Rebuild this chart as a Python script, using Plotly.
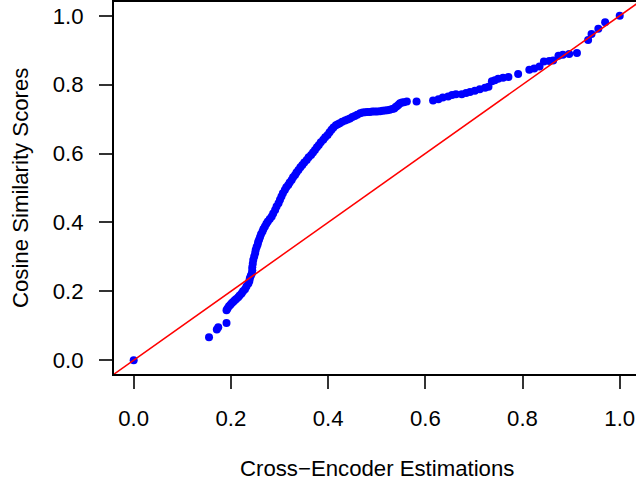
import plotly.graph_objects as go

# Quantile pairs
cross_encoder = [
    0.000, 0.155, 0.171, 0.174, 0.191,
    0.191, 0.193, 0.196, 0.199, 0.202, 0.205, 0.208, 0.211, 0.215, 0.218,
    0.222, 0.225, 0.229, 0.232, 0.236, 0.238, 0.239, 0.241, 0.243, 0.244,
    0.244, 0.245, 0.246, 0.248, 0.250, 0.251, 0.253, 0.255, 0.256, 0.258,
    0.260, 0.262, 0.265, 0.267, 0.270, 0.273, 0.276, 0.280, 0.284, 0.287,
    0.291, 0.294, 0.298, 0.301, 0.304, 0.307, 0.311, 0.314, 0.318, 0.321,
    0.325, 0.328, 0.332, 0.335, 0.339, 0.343, 0.347, 0.351, 0.356, 0.360,
    0.365, 0.369, 0.373, 0.377, 0.381, 0.385, 0.390, 0.394, 0.399, 0.403,
    0.407, 0.411, 0.416, 0.420, 0.424, 0.429, 0.435, 0.440, 0.445, 0.450,
    0.455, 0.460, 0.466, 0.471, 0.476, 0.481, 0.486, 0.491, 0.496, 0.501,
    0.507, 0.512, 0.517, 0.522, 0.527, 0.532, 0.536, 0.539, 0.542, 0.545,
    0.548, 0.552, 0.556, 0.562,
    0.582, 0.616, 0.627, 0.636, 0.647, 0.655, 0.663,
    0.675, 0.684, 0.692, 0.702, 0.712, 0.723, 0.730, 0.737, 0.743, 0.750,
    0.760, 0.771, 0.791, 0.814, 0.824, 0.835, 0.844, 0.855, 0.863, 0.874,
    0.883, 0.896, 0.912, 0.935, 0.942, 0.956, 0.970, 1.000,
]
cosine_similarity = [
    0.000, 0.067, 0.089, 0.096, 0.108,
    0.145, 0.150, 0.157, 0.161, 0.166, 0.170, 0.174, 0.178, 0.183, 0.188,
    0.194, 0.200, 0.206, 0.214, 0.223, 0.230, 0.238, 0.245, 0.252, 0.261,
    0.270, 0.280, 0.291, 0.301, 0.311, 0.320, 0.329, 0.336, 0.343, 0.350,
    0.358, 0.366, 0.374, 0.381, 0.388, 0.396, 0.403, 0.410, 0.417, 0.426,
    0.436, 0.446, 0.456, 0.466, 0.475, 0.485, 0.494, 0.502, 0.509, 0.516,
    0.523, 0.531, 0.538, 0.545, 0.552, 0.560, 0.567, 0.574, 0.581, 0.589,
    0.596, 0.603, 0.610, 0.618, 0.625, 0.633, 0.640, 0.647, 0.654, 0.662,
    0.669, 0.676, 0.682, 0.685, 0.688, 0.692, 0.696, 0.699, 0.702, 0.706,
    0.709, 0.713, 0.717, 0.719, 0.720, 0.721, 0.721, 0.722, 0.722, 0.722,
    0.723, 0.724, 0.725, 0.726, 0.727, 0.729, 0.731, 0.735, 0.738, 0.742,
    0.746, 0.748, 0.749, 0.751,
    0.751, 0.754, 0.758, 0.763, 0.766, 0.770, 0.772,
    0.772, 0.776, 0.779, 0.782, 0.787, 0.791, 0.794, 0.810, 0.813, 0.817,
    0.820, 0.822, 0.831, 0.843, 0.847, 0.853, 0.867, 0.869, 0.870, 0.884,
    0.887, 0.889, 0.892, 0.930, 0.947, 0.962, 0.981, 1.000,
]
tick_values = [0.0, 0.2, 0.4, 0.6, 0.8, 1.0]
tick_labels = ["0.0", "0.2", "0.4", "0.6", "0.8", "1.0"]
identity_line = [-0.1, 1.1]

FONT = "Liberation Sans, Arial, Helvetica, sans-serif"
FS = 22.2

fig = go.Figure()
fig.add_trace(go.Scatter(
    x=cross_encoder, y=cosine_similarity, mode="markers",
    marker=dict(color="#0000FF", size=8, line=dict(width=0)),
    showlegend=False, hoverinfo="x+y",
))
fig.add_trace(go.Scatter(
    x=identity_line, y=identity_line, mode="lines",
    line=dict(color="#FF0000", width=1.5),
    showlegend=False, hoverinfo="skip",
))

fig.update_layout(
    width=636, height=481,
    margin=dict(l=114, r=0, t=2, b=107),
    paper_bgcolor="white", plot_bgcolor="white",
    font=dict(family=FONT, size=FS, color="black"),
    xaxis=dict(
        range=[-0.0405, 1.0335], tickvals=tick_values, ticktext=tick_labels,
        showgrid=False, zeroline=False, showline=True, mirror=True,
        linecolor="black", linewidth=2, ticks="outside", ticklen=13,
        tickwidth=1.5, tickcolor="#333333", ticklabelstandoff=10,
        tickfont=dict(family=FONT, size=FS, color="black"),
    ),
    yaxis=dict(
        range=[-0.04, 1.04], tickvals=tick_values, ticktext=tick_labels,
        showgrid=False, zeroline=False, showline=True, mirror=False,
        linecolor="black", linewidth=2, ticks="outside", ticklen=13,
        tickwidth=1.5, tickcolor="#333333", ticklabelstandoff=11,
        tickfont=dict(family=FONT, size=FS, color="black"),
    ),
    annotations=[
        dict(text="Cross\u2212Encoder Estimations", xref="paper", yref="paper",
             x=0.503, y=-0.2527, xanchor="center", yanchor="middle",
             showarrow=False, font=dict(family=FONT, size=FS, color="black")),
        dict(text="Cosine Similarity Scores", xref="paper", yref="paper",
             x=-0.180, y=0.5, xanchor="center", yanchor="middle", textangle=-90,
             showarrow=False, font=dict(family=FONT, size=FS, color="black")),
    ],
)

fig.write_html("out.html")
